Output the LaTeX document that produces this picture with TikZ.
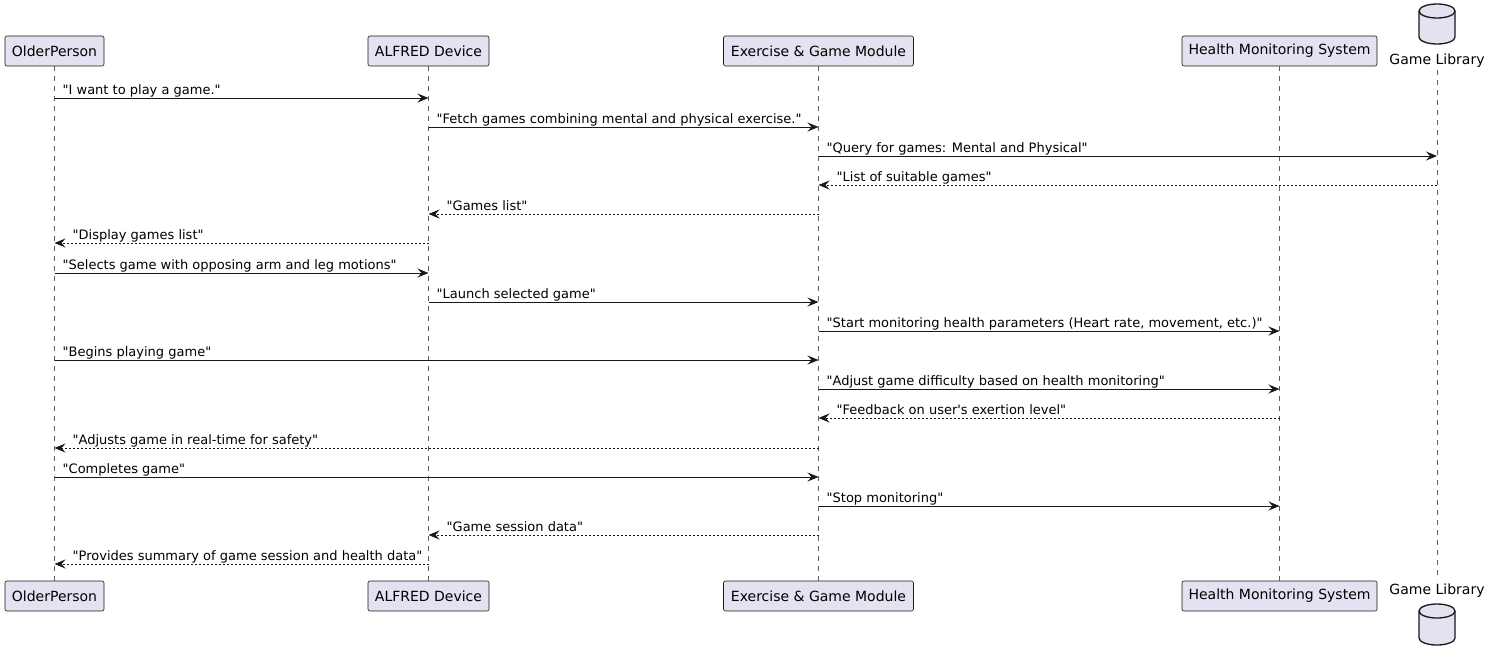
\documentclass[tikz,border=0pt]{standalone}
\usepackage{fontspec}
\newfontfamily\dv{DejaVu Sans}
\usetikzlibrary{arrows.meta}
\definecolor{pfill}{HTML}{E2E2F0}
\definecolor{pline}{HTML}{181818}
\tikzset{
  part/.style={draw=pline, fill=pfill, line width=0.6pt, rounded corners=2pt, inner sep=0pt, minimum height=30pt, font=\dv\fontsize{14}{16}\selectfont},
  life/.style={draw=pline!70, line width=0.6pt, dash pattern=on 5pt off 5pt},
  msg/.style={draw=pline, line width=1pt, -{Stealth[length=11pt,width=9pt,inset=4pt]}},
  rmsg/.style={msg, dash pattern=on 2pt off 2pt},
  lbl/.style={font=\dv\fontsize{13}{15}\selectfont, inner sep=0pt, anchor=base west},
  dblbl/.style={font=\dv\fontsize{14}{16}\selectfont, inner sep=0pt, anchor=base},
  db/.style={draw=pline, fill=pfill, line width=1.3pt}
}
\begin{document}
\begin{tikzpicture}[x=1pt,y=-1pt]
\useasboundingbox (0,0) rectangle (1488,659);
% participants top
\node[part, minimum width=99pt] (opT) at (54.5,51) {OlderPerson};
\node[part, minimum width=121pt] (alT) at (428.5,51) {ALFRED Device};
\node[part, minimum width=190pt] (exT) at (818.5,51) {Exercise \& Game Module};
\node[part, minimum width=195pt] (hmT) at (1279.5,51) {Health Monitoring System};
\node[dblbl] (glT) at (1437,64) {Game Library};
% participants bottom
\node[part, minimum width=99pt] (opB) at (54.5,596) {OlderPerson};
\node[part, minimum width=121pt] (alB) at (428.5,596) {ALFRED Device};
\node[part, minimum width=190pt] (exB) at (818.5,596) {Exercise \& Game Module};
\node[part, minimum width=195pt] (hmB) at (1279.5,596) {Health Monitoring System};
\node[dblbl] (glB) at (1437,594) {Game Library};
% database cylinders
\draw[db] (1419,11) -- (1419,37) arc[start angle=180,end angle=0,x radius=18,y radius=7] -- (1455,11) arc[start angle=0,end angle=-180,x radius=18,y radius=7] -- cycle;
\draw[db] (1419,11) arc[start angle=180,end angle=0,x radius=18,y radius=7];
\draw[db] (1419,611) -- (1419,638) arc[start angle=180,end angle=0,x radius=18,y radius=7] -- (1455,611) arc[start angle=0,end angle=-180,x radius=18,y radius=7] -- cycle;
\draw[db] (1419,611) arc[start angle=180,end angle=0,x radius=18,y radius=7];
% lifelines
\coordinate (glTop) at (1437,70);
\coordinate (glBot) at (1437,580);
\draw[life] (opT.south) -- (opB.north);
\draw[life] (alT.south) -- (alB.north);
\draw[life] (exT.south) -- (exB.north);
\draw[life] (hmT.south) -- (hmB.north);
\draw[life] (glTop) -- (glBot);
% message rows
\foreach \i/\y in {1/98,2/127,3/156,4/185,5/214,6/243,7/273,8/302,9/331,10/360,11/389,12/418,13/448,14/477,15/506,16/535,17/564}
  \coordinate (r\i) at (0,\y);
% messages
\draw[msg] (opT |- r1) -- (alT |- r1);
\node[lbl] (t1) at ([shift={(8,-4)}]opT |- r1) {"I want to play a game."};
\draw[msg] (alT |- r2) -- (exT |- r2);
\node[lbl] (t2) at ([shift={(8,-4)}]alT |- r2) {"Fetch games combining mental and physical exercise."};
\draw[msg] (exT |- r3) -- (glTop |- r3);
\node[lbl] (t3) at ([shift={(8,-4)}]exT |- r3) {"Query for games: Mental and Physical"};
\draw[rmsg] (glTop |- r4) -- (exT |- r4);
\node[lbl] (t4) at ([shift={(18,-4)}]exT |- r4) {"List of suitable games"};
\draw[rmsg] (exT |- r5) -- (alT |- r5);
\node[lbl] (t5) at ([shift={(18,-4)}]alT |- r5) {"Games list"};
\draw[rmsg] (alT |- r6) -- (opT |- r6);
\node[lbl] (t6) at ([shift={(18,-4)}]opT |- r6) {"Display games list"};
\draw[msg] (opT |- r7) -- (alT |- r7);
\node[lbl] (t7) at ([shift={(8,-4)}]opT |- r7) {"Selects game with opposing arm and leg motions"};
\draw[msg] (alT |- r8) -- (exT |- r8);
\node[lbl] (t8) at ([shift={(8,-4)}]alT |- r8) {"Launch selected game"};
\draw[msg] (exT |- r9) -- (hmT |- r9);
\node[lbl] (t9) at ([shift={(8,-4)}]exT |- r9) {"Start monitoring health parameters (Heart rate, movement, etc.)"};
\draw[msg] (opT |- r10) -- (exT |- r10);
\node[lbl] (t10) at ([shift={(8,-4)}]opT |- r10) {"Begins playing game"};
\draw[msg] (exT |- r11) -- (hmT |- r11);
\node[lbl] (t11) at ([shift={(8,-4)}]exT |- r11) {"Adjust game difficulty based on health monitoring"};
\draw[rmsg] (hmT |- r12) -- (exT |- r12);
\node[lbl] (t12) at ([shift={(18,-4)}]exT |- r12) {"Feedback on user's exertion level"};
\draw[rmsg] (exT |- r13) -- (opT |- r13);
\node[lbl] (t13) at ([shift={(18,-4)}]opT |- r13) {"Adjusts game in real-time for safety"};
\draw[msg] (opT |- r14) -- (exT |- r14);
\node[lbl] (t14) at ([shift={(8,-4)}]opT |- r14) {"Completes game"};
\draw[msg] (exT |- r15) -- (hmT |- r15);
\node[lbl] (t15) at ([shift={(8,-4)}]exT |- r15) {"Stop monitoring"};
\draw[rmsg] (exT |- r16) -- (alT |- r16);
\node[lbl] (t16) at ([shift={(18,-4)}]alT |- r16) {"Game session data"};
\draw[rmsg] (alT |- r17) -- (opT |- r17);
\node[lbl] (t17) at ([shift={(18,-4)}]opT |- r17) {"Provides summary of game session and health data"};
\end{tikzpicture}
\end{document}
